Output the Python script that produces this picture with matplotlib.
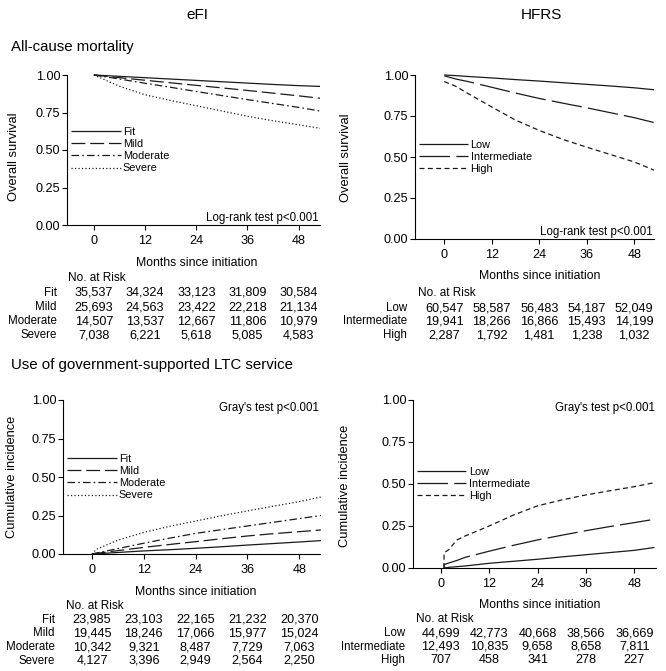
import numpy as np
import matplotlib
matplotlib.use("Agg")
import matplotlib.pyplot as plt
from matplotlib.transforms import blended_transform_factory

plt.rcParams['font.family'] = ['Liberation Sans', 'DejaVu Sans']
plt.rcParams['lines.scale_dashes'] = False

W, H = 666, 671

# ---- data ----
months = [0, 12, 24, 36, 48]

# eFI, all-cause mortality (overall survival)
efi_groups = ['Fit', 'Mild', 'Moderate', 'Severe']
efi_mort_t = [0, 6, 12, 18, 24, 30, 36, 42, 48, 53]
efi_mort_fit = [1.000, .991, .982, .973, .964, .955, .946, .937, .929, .924]
efi_mort_mild = [1.000, .982, .965, .948, .931, .914, .897, .879, .861, .845]
efi_mort_mod = [1.000, .973, .945, .918, .890, .863, .836, .810, .784, .760]
efi_mort_sev = [1.000, .925, .868, .830, .795, .760, .725, .695, .668, .645]
efi_mort_risk = [
    ['35,537', '34,324', '33,123', '31,809', '30,584'],
    ['25,693', '24,563', '23,422', '22,218', '21,134'],
    ['14,507', '13,537', '12,667', '11,806', '10,979'],
    ['7,038', '6,221', '5,618', '5,085', '4,583'],
]

# HFRS, all-cause mortality
hfrs_groups = ['Low', 'Intermediate', 'High']
hfrs_mort_t = [0, 3, 6, 12, 18, 24, 30, 36, 42, 48, 53]
hfrs_mort_low = [1.0, .996, .991, .982, .972, .963, .953, .943, .933, .922, .910]
hfrs_mort_int = [.995, .975, .960, .925, .890, .857, .828, .800, .770, .740, .710]
hfrs_mort_high = [.960, .930, .887, .805, .725, .662, .607, .560, .515, .470, .420]
hfrs_mort_risk = [
    ['60,547', '58,587', '56,483', '54,187', '52,049'],
    ['19,941', '18,266', '16,866', '15,493', '14,199'],
    ['2,287', '1,792', '1,481', '1,238', '1,032'],
]

# eFI, LTC service (cumulative incidence)
efi_ltc_t = [0, 1, 6, 12, 18, 24, 30, 36, 42, 48, 53]
efi_ltc_fit = [0, .001, .010, .020, .028, .037, .047, .058, .068, .078, .087]
efi_ltc_mild = [0, .004, .022, .043, .062, .080, .099, .117, .132, .145, .156]
efi_ltc_mod = [0, .006, .035, .070, .103, .134, .158, .182, .206, .230, .250]
efi_ltc_sev = [0, .030, .090, .140, .180, .214, .248, .280, .310, .340, .370]
efi_ltc_risk = [
    ['23,985', '23,103', '22,165', '21,232', '20,370'],
    ['19,445', '18,246', '17,066', '15,977', '15,024'],
    ['10,342', '9,321', '8,487', '7,729', '7,063'],
    ['4,127', '3,396', '2,949', '2,564', '2,250'],
]

# HFRS, LTC service
hfrs_ltc_t = [0.8, 0.8, 2, 4, 6, 12, 18, 24, 30, 36, 42, 48, 53]
hfrs_ltc_low = [0, 0, .004, .008, .012, .028, .040, .052, .066, .079, .092, .105, .122]
hfrs_ltc_int = [0, .020, .030, .045, .063, .100, .135, .167, .195, .222, .247, .270, .290]
hfrs_ltc_high = [0, .090, .110, .167, .190, .250, .315, .370, .405, .435, .460, .484, .508]
hfrs_ltc_risk = [
    ['44,699', '42,773', '40,668', '38,566', '36,669'],
    ['12,493', '10,835', '9,658', '8,658', '7,811'],
    ['707', '458', '341', '278', '227'],
]

# ---- styles ----
efi_dash = [(0, ()), (0, (10, 3.5)), (0, (5.5, 2.2, 1.2, 2.2)), (0, (0.9, 1.6))]
hfrs_dash = [(0, ()), (0, (22, 4.5)), (0, (3.6, 2.4))]
col = '#1a1a1a'
fs = 8.3       # row labels, test text
fs_num = 9.1   # tick labels and risk numbers
fs_lab = 8.8   # x axis label
fs_ylab = 9.3

fig = plt.figure(figsize=(W / 100, H / 100), dpi=100)


def fx(x):
    return x / W


def fy(y):
    return 1 - y / H


def make_ax(left, right, top, bottom, xlim):
    ax = fig.add_axes([fx(left), fy(bottom), fx(right - left), (bottom - top) / H])
    ax.set_xlim(*xlim)
    ax.set_ylim(0, 1)
    ax.spines['top'].set_visible(False)
    ax.spines['right'].set_visible(False)
    ax.spines['left'].set_linewidth(0.8)
    ax.spines['bottom'].set_linewidth(0.8)
    ax.set_xticks(months)
    ax.set_yticks([0, .25, .5, .75, 1])
    ax.set_yticklabels(['0.00', '0.25', '0.50', '0.75', '1.00'])
    ax.tick_params(axis='x', length=3.3, width=0.8, pad=4.2, labelsize=fs_num)
    ax.tick_params(axis='y', length=3.3, width=0.8, pad=1.6, labelsize=fs_num)
    return ax


def draw(ax, t, series, labels, dashes):
    for y, lab, ls in zip(series, labels, dashes):
        ax.plot(t, y, color=col, lw=0.9, linestyle=ls, label=lab, clip_on=False)
    ax.legend(loc='center left', bbox_to_anchor=(0.015, 0.5), frameon=False,
              fontsize=7.8, handlelength=4.6, handletextpad=0.2,
              labelspacing=0.21, borderpad=0, borderaxespad=0)


def risk_table(ax, rows, labels, head_x, head_y, lab_x, row_y):
    tr = blended_transform_factory(ax.transData, fig.transFigure)
    fig.text(fx(head_x), fy(head_y), 'No. at Risk', fontsize=8.5, ha='left', va='center')
    for i, (lab, vals) in enumerate(zip(labels, rows)):
        y = row_y[0] + i * (row_y[1] - row_y[0])
        fig.text(fx(lab_x), fy(y), lab, fontsize=fs, ha='right', va='center')
        for m, v in zip(months, vals):
            ax.text(m, fy(y), v, transform=tr, fontsize=fs_num, ha='center', va='center')


# column and row titles
fig.text(fx(197), fy(15), 'eFI', fontsize=11, ha='center', va='center')
fig.text(fx(541), fy(15), 'HFRS', fontsize=11, ha='center', va='center')
fig.text(fx(11), fy(47), 'All-cause mortality', fontsize=10.8, ha='left', va='center')
fig.text(fx(11), fy(365), 'Use of government-supported LTC service', fontsize=10.8,
         ha='left', va='center')

# top left
ax1 = make_ax(67, 320, 75, 225, (-6.3, 53.0))
draw(ax1, efi_mort_t, [efi_mort_fit, efi_mort_mild, efi_mort_mod, efi_mort_sev],
     efi_groups, efi_dash)
ax1.text(0.995, 0.045, 'Log-rank test p<0.001', transform=ax1.transAxes, fontsize=fs,
         ha='right', va='center')
fig.text(fx(14), fy(157), 'Overall survival', rotation=90, fontsize=fs_ylab, ha='center', va='center')
fig.text(fx(197), fy(263), 'Months since initiation', fontsize=fs_lab, ha='center', va='center')
risk_table(ax1, efi_mort_risk, efi_groups, 68, 278, 57, [293, 307])

# top right
ax2 = make_ax(415, 654, 75, 239, (-7.4, 53.0))
draw(ax2, hfrs_mort_t, [hfrs_mort_low, hfrs_mort_int, hfrs_mort_high],
     hfrs_groups, hfrs_dash)
ax2.text(0.995, 0.045, 'Log-rank test p<0.001', transform=ax2.transAxes, fontsize=fs,
         ha='right', va='center')
fig.text(fx(346), fy(158), 'Overall survival', rotation=90, fontsize=fs_ylab, ha='center', va='center')
fig.text(fx(540), fy(276), 'Months since initiation', fontsize=fs_lab, ha='center', va='center')
risk_table(ax2, hfrs_mort_risk, hfrs_groups, 418, 293, 407, [308, 321.5])

# bottom left
ax3 = make_ax(63, 320, 400, 554, (-6.7, 52.8))
draw(ax3, efi_ltc_t, [efi_ltc_fit, efi_ltc_mild, efi_ltc_mod, efi_ltc_sev],
     efi_groups, efi_dash)
ax3.text(0.995, 0.95, "Gray's test p<0.001", transform=ax3.transAxes, fontsize=fs,
         ha='right', va='center')
fig.text(fx(12), fy(477), 'Cumulative incidence', rotation=90, fontsize=fs_ylab, ha='center', va='center')
fig.text(fx(196), fy(592), 'Months since initiation', fontsize=fs_lab, ha='center', va='center')
risk_table(ax3, efi_ltc_risk, efi_groups, 66, 606, 55, [620, 633.5])

# bottom right
ax4 = make_ax(413, 656, 400, 568, (-6.9, 53.4))
draw(ax4, hfrs_ltc_t, [hfrs_ltc_low, hfrs_ltc_int, hfrs_ltc_high], hfrs_groups, hfrs_dash)
ax4.text(0.995, 0.95, "Gray's test p<0.001", transform=ax4.transAxes, fontsize=fs,
         ha='right', va='center')
fig.text(fx(345), fy(486), 'Cumulative incidence', rotation=90, fontsize=fs_ylab, ha='center', va='center')
fig.text(fx(540), fy(605), 'Months since initiation', fontsize=fs_lab, ha='center', va='center')
risk_table(ax4, hfrs_ltc_risk, hfrs_groups, 416, 619, 405, [633, 646.5])

fig.savefig('out.png', dpi=100)
